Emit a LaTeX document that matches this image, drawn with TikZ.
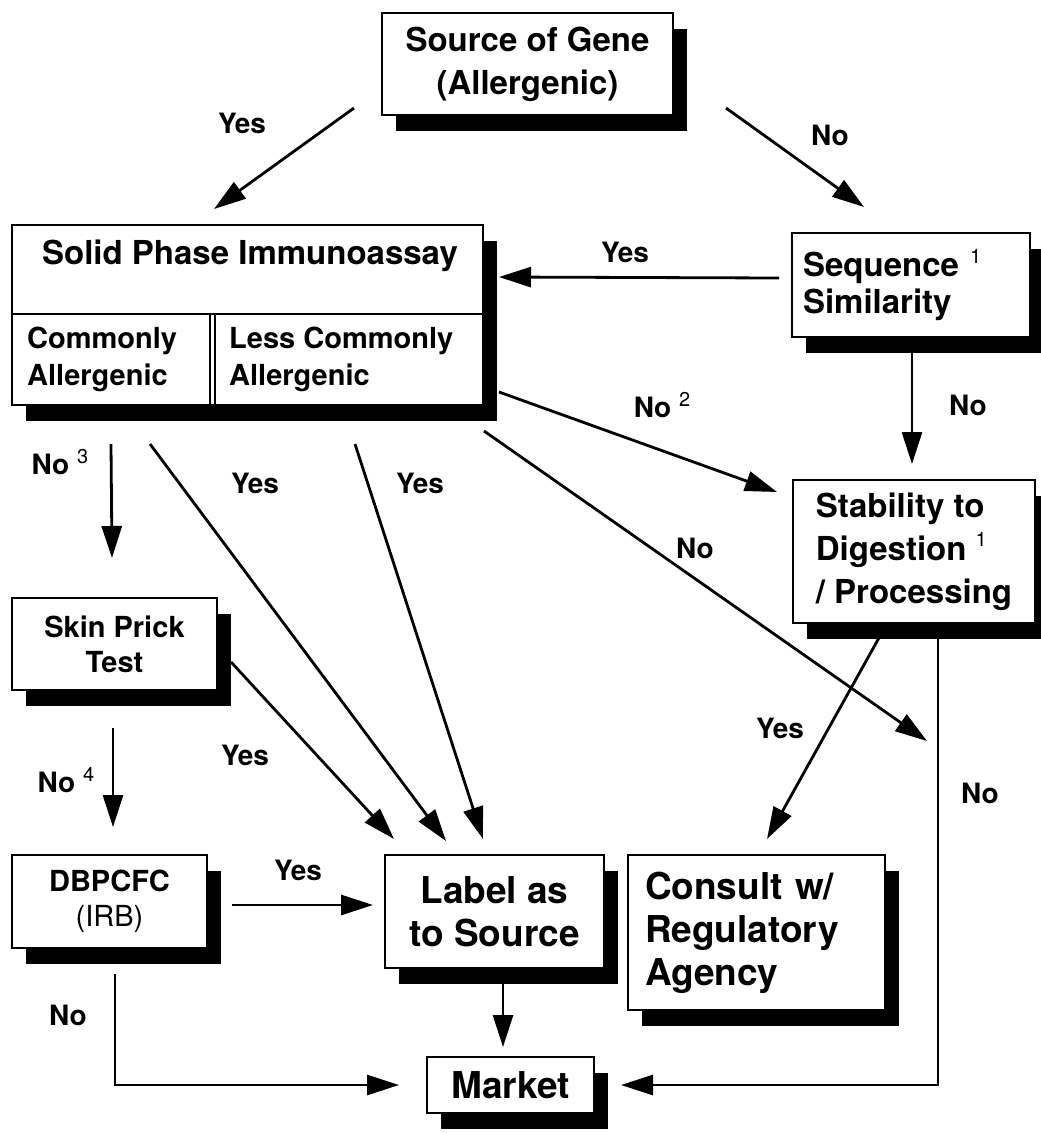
\documentclass[tikz,border=0pt]{standalone}
\usepackage{fontspec}
\setmainfont{TeX Gyre Heros}
\usetikzlibrary{arrows.meta,shadows,positioning}
\newcommand{\fnote}[1]{\raisebox{0.42em}{\fontsize{20}{20}\selectfont\mdseries #1}}
\tikzset{
  flow box/.style={
    draw, line width=2pt, fill=white, rectangle, inner sep=0pt,
    font=\bfseries\fontsize{33}{43}\selectfont, align=center,
    drop shadow={shadow xshift=14pt, shadow yshift=-16pt, fill=black, opacity=1}
  },
  big text/.style={font=\bfseries\fontsize{37}{43}\selectfont},
  small text/.style={font=\bfseries\fontsize{29}{35}\selectfont},
  cell text/.style={font=\bfseries\fontsize{29}{37}\selectfont, align=left, inner sep=0pt, anchor=west},
  flow arrow/.style={-{Triangle[length=32pt,width=20pt]}, line width=2.8pt},
  answer/.style={font=\bfseries\fontsize{28}{28}\selectfont, inner sep=0pt},
}
\begin{document}
\begin{tikzpicture}[x=1pt, y=-1pt]
  \useasboundingbox (0,0) rectangle (1041,1133);

  % boxes
  \node[flow box, minimum width=291, minimum height=102] (source) at (527.5,64)
    {Source of Gene\\(Allergenic)};
  \node[flow box, minimum width=471, minimum height=180] (spia) at (247.5,315) {};
  \node[flow box, minimum width=238, minimum height=104, text width=216, align=left,
        font=\bfseries\fontsize{33}{37}\selectfont] (seqsim) at (911,285)
    {Sequence \fnote{1}\\Similarity};
  \node[flow box, minimum width=242, minimum height=143, align=left] (stab) at (914,551.5)
    {Stability to\\Digestion \fnote{1}\\/ Processing};
  \node[flow box, small text, minimum width=205, minimum height=92] (skin) at (114.5,644)
    {Skin Prick\\Test};
  \node[flow box, small text, minimum width=195, minimum height=93] (dbpcfc) at (109.5,901.5)
    {DBPCFC\\{\mdseries (IRB)}};
  \node[flow box, big text, minimum width=219, minimum height=113] (labelsrc) at (494.5,911.5)
    {Label as\\to Source};
  \node[flow box, big text, minimum width=257, minimum height=155, text width=223,
        align=left] (consult) at (756.5,932.5)
    {Consult w/\\Regulatory\\Agency};
  \node[flow box, big text, minimum width=167, minimum height=56] (market) at (510.5,1085)
    {Market};

  % solid phase immunoassay cells
  \node[font=\bfseries\fontsize{33}{37}\selectfont, inner sep=0pt] (spiatitle)
    at ([shift={(2.5,32)}]spia.north) {Solid Phase Immunoassay};
  \draw[line width=2pt] ([shift={(0,90)}]spia.north west) -- ([shift={(0,90)}]spia.north east);
  \draw[line width=1.5pt] ([shift={(199,90)}]spia.north west) -- ([shift={(199,0)}]spia.south west);
  \draw[line width=1.5pt] ([shift={(204,90)}]spia.north west) -- ([shift={(204,0)}]spia.south west);
  \node[cell text] (common) at ([shift={(16,-47)}]spia.south west) {Commonly\\Allergenic};
  \node[cell text] (lesscommon) at ([shift={(218,-47)}]spia.south west) {Less Commonly\\Allergenic};

  % connectors
  \draw[flow arrow] ([shift={(-27,-8)}]source.south west) -- ([shift={(203,-15)}]spia.north west);
  \draw[flow arrow] ([shift={(52,-8)}]source.south east) -- ([shift={(73,-25)}]seqsim.north west);
  \draw[flow arrow] ([shift={(-12,-7)}]seqsim.west) -- ([shift={(15,53)}]spia.north east);
  \draw[flow arrow] ([shift={(1,15)}]seqsim.south) -- ([shift={(-2,-15)}]stab.north);
  \draw[flow arrow] ([shift={(15,-14)}]spia.south east) -- ([shift={(-15,13)}]stab.north west);
  \draw[flow arrow] ([shift={(0,25)}]spia.south east) -- ([shift={(-109,117)}]stab.south east);
  \draw[flow arrow] ([shift={(100,38)}]spia.south west) -- ([shift={(-2.5,-39)}]skin.north);
  \draw[flow arrow] ([shift={(139,38)}]spia.south west) -- ([shift={(62,-13)}]labelsrc.north west);
  \draw[flow arrow] ([shift={(344,38)}]spia.south west) -- ([shift={(99,-15)}]labelsrc.north west);
  \draw[flow arrow] ([shift={(13,65)}]skin.north east) -- ([shift={(10,-15)}]labelsrc.north west);
  \draw[flow arrow] ([shift={(-1.5,37)}]skin.south) -- ([shift={(3.5,-27)}]dbpcfc.north);
  \draw[flow arrow] ([shift={(24,3.5)}]dbpcfc.east) -- ([shift={(-11,-6.5)}]labelsrc.west);
  \draw[flow arrow] ([shift={(5.5,25)}]dbpcfc.south) |- ([shift={(-27,0)}]market.west);
  \draw[flow arrow] ([shift={(8.5,15)}]labelsrc.south) -- ([shift={(-7.5,-9)}]market.north);
  \draw[flow arrow] ([shift={(-34,12)}]stab.south) -- ([shift={(10.5,-15)}]consult.north);
  \draw[flow arrow] ([shift={(24,14)}]stab.south) |- ([shift={(26,0)}]market.east);

  % answers
  \node[answer] (yesa) at (242,123) {Yes};
  \node[answer] (noa) at (830,135) {No};
  \node[answer] (yesb) at (625,252) {Yes};
  \node[answer] (nob) at (968,405) {No};
  \node[answer] (noc) at (662,405) {No \fnote{2}};
  \node[answer] (nod) at (60,462) {No \fnote{3}};
  \node[answer] (yesc) at (255,483) {Yes};
  \node[answer] (yesd) at (420,483) {Yes};
  \node[answer] (noe) at (695,548) {No};
  \node[answer] (yese) at (245,755) {Yes};
  \node[answer] (nof) at (66,780) {No \fnote{4}};
  \node[answer] (yesf) at (780,728) {Yes};
  \node[answer] (nog) at (980,793) {No};
  \node[answer] (yesg) at (298,870) {Yes};
  \node[answer] (noh) at (68,1015) {No};

\end{tikzpicture}
\end{document}
